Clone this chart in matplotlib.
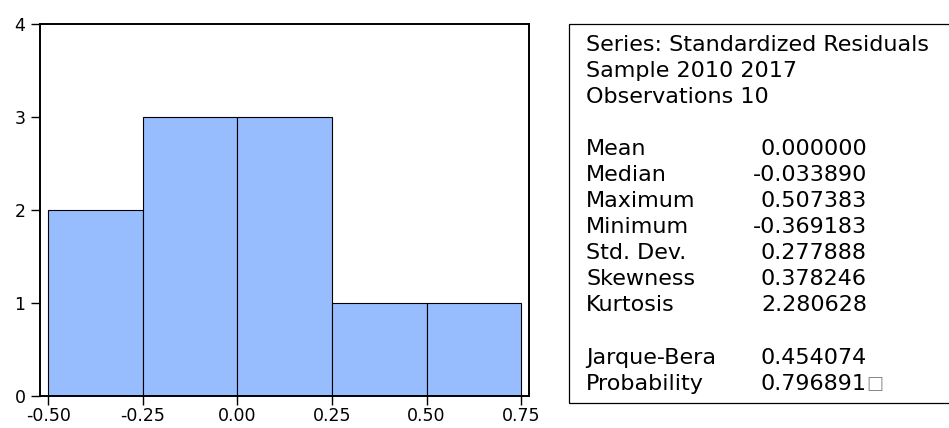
import matplotlib
matplotlib.use('Agg')
import matplotlib.pyplot as plt
from matplotlib.patches import Rectangle

# histogram of standardized residuals
bin_edges = [-0.50, -0.25, 0.00, 0.25, 0.50, 0.75]
counts = [2, 3, 3, 1, 1]
x_ticks = [-0.50, -0.25, 0.00, 0.25, 0.50, 0.75]
y_ticks = [0, 1, 2, 3, 4]

header_lines = ['Series: Standardized Residuals', 'Sample 2010 2017', 'Observations 10']
stat_names = ['Mean', 'Median', 'Maximum', 'Minimum', 'Std. Dev.', 'Skewness', 'Kurtosis']
stat_values = ['0.000000', '-0.033890', '0.507383', '-0.369183', '0.277888', '0.378246', '2.280628']
test_names = ['Jarque-Bera', 'Probability']
test_values = ['0.454074', '0.796891']

W, H = 949, 428
plt.rcParams['font.family'] = ['DejaVu Sans']

fig = plt.figure(figsize=(W / 100, H / 100), dpi=100)

# axes box in pixels: left 40, right 529, top 24, bottom 396
ax = fig.add_axes([40 / W, (H - 396) / H, (529 - 40) / W, (396 - 24) / H])

widths = [bin_edges[i + 1] - bin_edges[i] for i in range(len(counts))]
ax.bar(bin_edges[:-1], counts, width=widths, align='edge',
       color='#97bdfe', edgecolor='black', linewidth=0.8)

ax.set_xlim(-0.522, 0.771)
ax.set_ylim(0, 4)
ax.set_xticks(x_ticks)
ax.set_xticklabels(['%.2f' % t for t in x_ticks])
ax.set_yticks(y_ticks)
ax.set_yticklabels([str(t) for t in y_ticks])
ax.tick_params(direction='out', length=6.5, width=1, labelsize=12.5, pad=4, colors='black')
ax.tick_params(axis='x', pad=1.5)
for sp in ax.spines.values():
    sp.set_linewidth(1.4)


def fy(py):
    return (H - py) / H


# stats box on the right, cut off at the edge of the picture
fig.patches.append(Rectangle((569 / W, fy(403)), (960 - 569) / W, (403 - 24) / H,
                             transform=fig.transFigure, facecolor='white',
                             edgecolor='black', linewidth=0.9))

fs = 16
lx = 586 / W
vx = 867 / W
for i, s in enumerate(header_lines):
    fig.text(lx, fy(51 + 26 * i), s, fontsize=fs, va='baseline', ha='left')
for i, (n, v) in enumerate(zip(stat_names, stat_values)):
    fig.text(lx, fy(155 + 26 * i), n, fontsize=fs, va='baseline', ha='left')
    fig.text(vx, fy(155 + 26 * i), v, fontsize=fs, va='baseline', ha='right')
for i, (n, v) in enumerate(zip(test_names, test_values)):
    fig.text(lx, fy(364 + 26 * i), n, fontsize=fs, va='baseline', ha='left')
    fig.text(vx, fy(364 + 26 * i), v, fontsize=fs, va='baseline', ha='right')
fig.text(866 / W, fy(389), '\u25a1', fontsize=13, va='baseline', ha='left', color='#888888')

fig.savefig('out.png', dpi=100)
